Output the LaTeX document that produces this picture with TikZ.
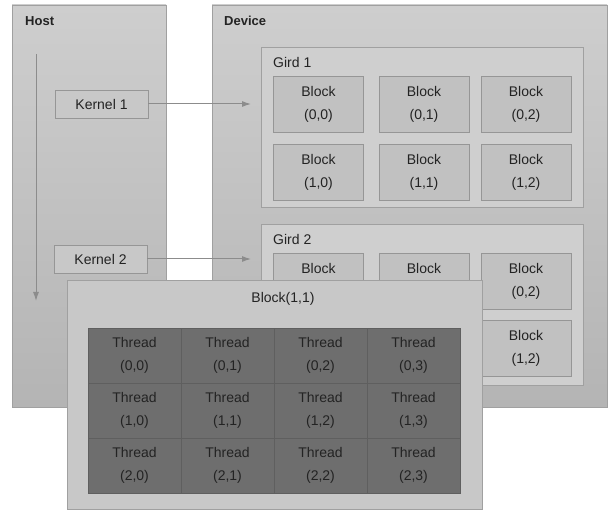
\documentclass[tikz,border=0pt]{standalone}
\usepackage{fontspec}
\setmainfont{Liberation Sans}
\usetikzlibrary{arrows.meta}
\definecolor{boxtop}{RGB}{206,206,206}
\definecolor{boxbot}{RGB}{180,180,180}
\definecolor{boxline}{RGB}{160,160,160}
\definecolor{girdfill}{RGB}{207,207,207}
\definecolor{blockfill}{RGB}{193,193,193}
\definecolor{blockline}{RGB}{150,150,150}
\definecolor{overfill}{RGB}{200,200,200}
\definecolor{thfill}{RGB}{110,110,110}
\definecolor{thline}{RGB}{95,95,95}
\definecolor{txt}{RGB}{35,35,35}
\definecolor{arrcol}{RGB}{140,140,140}
\tikzset{
  outer/.style={draw=boxline, line width=0.8pt, top color=boxtop, bottom color=boxbot, rectangle, inner sep=0pt},
  girdbox/.style={draw=boxline, line width=0.8pt, fill=girdfill, rectangle, inner sep=0pt, minimum width=322pt},
  blockbox/.style={draw=blockline, line width=0.8pt, fill=blockfill, rectangle, inner sep=0pt, minimum width=90pt, minimum height=56pt, align=center, text=txt, font=\fontsize{14}{23}\selectfont},
  kernelbox/.style={draw=blockline, line width=0.8pt, fill=overfill, rectangle, inner sep=0pt, minimum width=93pt, minimum height=28pt, text=txt, font=\fontsize{14}{16}\selectfont},
  overbox/.style={draw=boxline, line width=0.8pt, fill=overfill, rectangle, inner sep=0pt},
  thbox/.style={draw=thline, line width=0.8pt, fill=thfill, rectangle, inner sep=0pt, minimum width=93pt, minimum height=55pt, align=center, text=txt, font=\fontsize{14}{23}\selectfont},
  lbl/.style={text=txt, font=\fontsize{14}{16}\selectfont, inner sep=0pt},
  blbl/.style={text=txt, font=\fontsize{13}{16}\selectfont\bfseries, inner sep=0pt},
  arr/.style={draw=arrcol, line width=1pt, -{Latex[length=9pt,width=6pt]}},
}
\begin{document}
\begin{tikzpicture}[x=1pt,y=-1pt]
\useasboundingbox (0,0) rectangle (615,510);
\fill[white] (0,0) rectangle (615,510);
% Host and Device
\node[outer, minimum width=154pt, minimum height=402pt] (host) at (89,206) {};
\node[outer, minimum width=395pt, minimum height=402pt] (device) at (409.5,206) {};
\node[blbl, anchor=base west] (hostl) at (25,26) {Host};
\node[blbl, anchor=base west] (devl) at (224,26) {Device};
% Gird 1
\node[girdbox, minimum height=160pt] (g1) at (422,127) {};
\node[lbl, anchor=base west] (g1l) at (273,68) {Gird 1};
\foreach \r/\y in {0/104,1/172}{
  \foreach \c/\x in {0/318.5,1/424,2/526}{
    \node[blockbox] (ga\r\c) at (\x,\y) {Block\\(\r,\c)};
  }
}
% Gird 2
\node[girdbox, minimum height=161pt] (g2) at (422,304.5) {};
\node[lbl, anchor=base west] (g2l) at (273,245) {Gird 2};
\node[blockbox] (gb00) at (318.5,281) {Block\\\phantom{(0,0)}};
\node[blockbox] (gb01) at (424,281) {Block\\\phantom{(0,1)}};
\node[blockbox] (gb02) at (526,281) {Block\\(0,2)};
\node[blockbox] (gb10) at (318.5,348.5) {};
\node[blockbox] (gb11) at (424,348.5) {};
\node[blockbox] (gb12) at (526,348.5) {Block\\(1,2)};
% Kernels
\node[kernelbox] (k1) at (101.5,104) {Kernel 1\hspace{16pt}};
\node[kernelbox] (k2) at (100.5,259) {Kernel 2\hspace{16pt}};
\coordinate (k1e) at (251,104);
\coordinate (k2e) at (251,259);
\draw[arr] (k1.east) -- (k1e);
\draw[arr] (k2.east) -- (k2e);
% timeline
\coordinate (t0) at (36,54);
\coordinate (t1) at (36,301);
\draw[arr] (t0) -- (t1);
% Block(1,1) overlay
\node[overbox, minimum width=415pt, minimum height=229pt] (ov) at (274.5,394.5) {};
\node[lbl, anchor=base] (ovl) at (283,302) {Block(1,1)};
\foreach \r/\y in {0/355.5,1/410.5,2/465.5}{
  \foreach \c/\x in {0/134.5,1/227.5,2/320.5,3/413.5}{
    \node[thbox] (t\r\c) at (\x,\y) {Thread\\(\r,\c)};
  }
}
\end{tikzpicture}
\end{document}
